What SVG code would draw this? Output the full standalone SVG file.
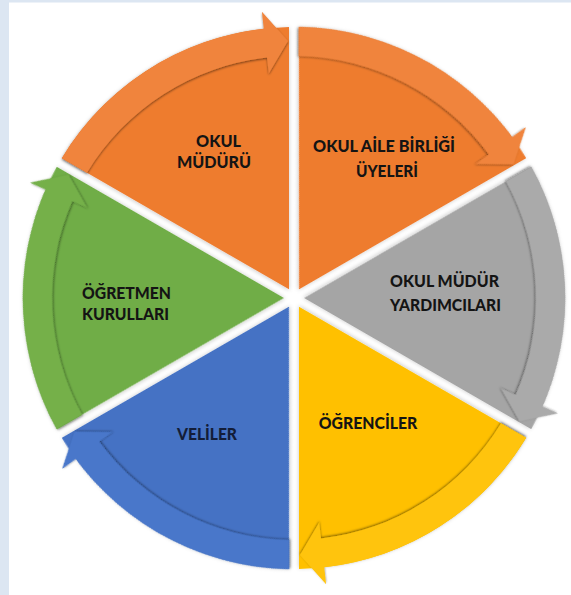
<svg xmlns="http://www.w3.org/2000/svg" width="571" height="595" viewBox="0 0 571 595">
  <style>
    .lbl { font-family: Lato, "Open Sans", "Liberation Sans", sans-serif; font-weight: 900; font-size: 17.5px; fill: #141414; text-anchor: middle; }
    .navy { fill: #131d38; }
  </style>
  <defs>
    <path id="wedge" d="M -5,-8.66 L -5,-270.95 A 271 271 0 0 0 -232.15,-139.81 Z"/>
    <path id="arrow" d="M -232.15,-139.81 A 271 271 0 0 1 -30.2,-269.3 L -32.1,-286.2 L -6,-256.9 L -25.2,-224.6 L -26.98,-240.49 A 242 242 0 0 0 -207.03,-125.30 Z"/>
    <filter id="bodyShadow" x="-20%" y="-20%" width="140%" height="140%">
      <feDropShadow dx="0" dy="1" stdDeviation="2" flood-color="#000" flood-opacity="0.22"/>
    </filter>
    <filter id="arrowShadow" x="-20%" y="-20%" width="140%" height="140%">
      <feDropShadow dx="0" dy="1.2" stdDeviation="1.3" flood-color="#000" flood-opacity="0.5"/>
    </filter>
  </defs>

  <rect width="571" height="595" fill="#ffffff"/>
  <rect x="0" y="0" width="9" height="595" fill="#dce6f2"/>
  <rect x="0" y="0" width="571" height="2.5" fill="#dce6f2"/>

  <g transform="translate(294,298)">
    <g id="node-okul-muduru">
      <use href="#wedge" fill="#ee7b2f" filter="url(#bodyShadow)"/>
    </g>
    <g id="node-okul-aile-birligi">
      <use href="#wedge" transform="rotate(60)" fill="#ee7b2f" filter="url(#bodyShadow)"/>
    </g>
    <g id="node-mudur-yardimcilari">
      <use href="#wedge" transform="rotate(120)" fill="#a5a5a5" filter="url(#bodyShadow)"/>
    </g>
    <g id="node-ogrenciler">
      <use href="#wedge" transform="rotate(180)" fill="#ffc000" filter="url(#bodyShadow)"/>
    </g>
    <g id="node-veliler">
      <use href="#wedge" transform="rotate(240)" fill="#4472c4" filter="url(#bodyShadow)"/>
    </g>
    <g id="node-ogretmen-kurullari">
      <use href="#wedge" transform="rotate(300)" fill="#70ad47" filter="url(#bodyShadow)"/>
    </g>

    <g id="connectors">
      <use href="#arrow" fill="#f0843c" filter="url(#arrowShadow)"/>
      <use href="#arrow" transform="rotate(60)" fill="#f0843c" filter="url(#arrowShadow)"/>
      <use href="#arrow" transform="rotate(120)" fill="#aaaaaa" filter="url(#arrowShadow)"/>
      <use href="#arrow" transform="rotate(180)" fill="#ffc410" filter="url(#arrowShadow)"/>
      <use href="#arrow" transform="rotate(240)" fill="#4877ca" filter="url(#arrowShadow)"/>
      <use href="#arrow" transform="rotate(300)" fill="#74b04a" filter="url(#arrowShadow)"/>
    </g>
  </g>

  <g id="labels">
    <text class="lbl" x="218.5" y="146.5" textLength="45" lengthAdjust="spacingAndGlyphs">OKUL</text>
    <text class="lbl" x="214" y="167.5" textLength="74" lengthAdjust="spacingAndGlyphs">MÜDÜRÜ</text>
    <text class="lbl" x="384" y="152" textLength="142" lengthAdjust="spacingAndGlyphs">OKUL AİLE BİRLİĞİ</text>
    <text class="lbl" x="387" y="177" textLength="62" lengthAdjust="spacingAndGlyphs">ÜYELERİ</text>
    <text class="lbl" x="444.5" y="287" textLength="109" lengthAdjust="spacingAndGlyphs">OKUL MÜDÜR</text>
    <text class="lbl" x="445.5" y="310.5" textLength="111" lengthAdjust="spacingAndGlyphs">YARDIMCILARI</text>
    <text class="lbl" x="126.5" y="299" textLength="89" lengthAdjust="spacingAndGlyphs">ÖĞRETMEN</text>
    <text class="lbl" x="125.5" y="320" textLength="87" lengthAdjust="spacingAndGlyphs">KURULLARI</text>
    <text class="lbl navy" x="207" y="440" textLength="60" lengthAdjust="spacingAndGlyphs">VELİLER</text>
    <text class="lbl" x="368" y="429" textLength="98.5" lengthAdjust="spacingAndGlyphs">ÖĞRENCİLER</text>
  </g>
</svg>
